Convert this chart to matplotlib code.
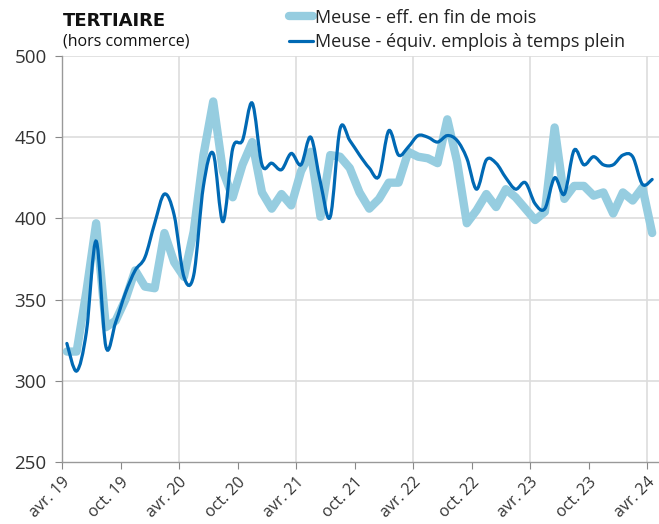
import matplotlib
matplotlib.use('Agg')
import matplotlib.pyplot as plt
from matplotlib.path import Path
from matplotlib.patches import PathPatch
from matplotlib.lines import Line2D
import numpy as np

plt.rcParams['font.family'] = ['Open Sans', 'DejaVu Sans']

# monthly values, avr. 2019 -> avr. 2024
eff_fin_mois = [318, 318, 355, 397, 333, 337, 350, 368, 358, 357,
                391, 373, 364, 392, 439, 472, 429, 413, 433, 447,
                416, 406, 415, 408, 429, 441, 401, 439, 438, 431,
                416, 406, 412, 422, 422, 441, 438, 437, 434, 461,
                435, 397, 405, 415, 407, 418, 413, 406, 399, 404,
                456, 412, 420, 420, 414, 416, 403, 416, 411, 419,
                391]
equiv_temps_plein = [323, 306, 330, 386, 321, 336, 354, 368, 376, 397,
                     415, 402, 364, 365, 420, 440, 398, 443, 448, 471,
                     433, 434, 430, 440, 433, 450, 422, 401, 455, 448,
                     439, 431, 426, 454, 439, 444, 451, 450, 447, 451,
                     448, 437, 418, 436, 434, 425, 418, 422, 409, 406,
                     425, 415, 442, 433, 438, 433, 433, 439, 438, 421,
                     424]
tick_labels = ['avr. 19', 'oct. 19', 'avr. 20', 'oct. 20', 'avr. 21', 'oct. 21',
               'avr. 22', 'oct. 22', 'avr. 23', 'oct. 23', 'avr. 24']
label_eff = 'Meuse - eff. en fin de mois'
label_etp = 'Meuse - équiv. emplois à temps plein'

LIGHT = '#96cde0'
DARK = '#0069b4'
GRID = '#dddddd'
TXT = '#333333'


def smooth_path(x, y, t=1.0):
    # catmull-rom style bezier through the data points
    pts = np.column_stack([x, y])
    verts = [pts[0]]
    codes = [Path.MOVETO]
    n = len(pts)
    for i in range(n - 1):
        p0 = pts[max(i - 1, 0)]
        p1 = pts[i]
        p2 = pts[i + 1]
        p3 = pts[min(i + 2, n - 1)]
        c1 = p1 + (p2 - p0) * t / 6
        c2 = p2 - (p3 - p1) * t / 6
        verts += [c1, c2, p2]
        codes += [Path.CURVE4] * 3
    return Path(verts, codes)


fig = plt.figure(figsize=(6.59, 5.24), dpi=100)
ax = fig.add_axes([62 / 659, 62 / 524, 597 / 659, 406 / 524])

x = np.arange(len(eff_fin_mois)) + 0.5
ax.plot(x, eff_fin_mois, color=LIGHT, lw=6, solid_joinstyle='round',
        solid_capstyle='round', zorder=3, clip_on=False)
ax.add_patch(PathPatch(smooth_path(x, equiv_temps_plein), fill=False,
                       edgecolor=DARK, lw=2.3, zorder=4, clip_on=False,
                       capstyle='round'))

ax.set_xlim(0, 61.2)
ax.set_ylim(250, 500)
ax.set_yticks(range(250, 501, 50))
ax.set_xticks(range(0, 61, 6))
ax.set_xticklabels(tick_labels, rotation=45, ha='right', va='top',
                   rotation_mode='anchor', fontsize=11.5, color=TXT)
ax.tick_params(axis='y', labelsize=13.5, colors='#888888', labelcolor=TXT,
               length=5, width=0.8, pad=6)
ax.tick_params(axis='x', colors='#888888', labelcolor=TXT, length=5,
               width=0.8, pad=4)

for v in range(300, 501, 50):
    ax.axhline(v, color=GRID, lw=1.2, zorder=1)
for m in range(12, 61, 12):
    ax.axvline(m, color=GRID, lw=1.2, zorder=1)

for s in ['top', 'right']:
    ax.spines[s].set_visible(False)
ax.spines['left'].set_color('#999999')
ax.spines['bottom'].set_color('#999999')
ax.spines['left'].set_linewidth(1)
ax.spines['bottom'].set_linewidth(1)

fig.text(63 / 659, 1 - 21 / 524, 'TERTIAIRE', fontsize=13, fontweight='bold',
         family='DejaVu Sans', color='#111111', va='center', ha='left')
fig.text(63 / 659, 1 - 42 / 524, '(hors commerce)', fontsize=11.5,
         color='#111111', va='center', ha='left')

handles = [Line2D([], [], color=LIGHT, lw=6, solid_capstyle='round'),
           Line2D([], [], color=DARK, lw=2.3, solid_capstyle='round')]
fig.legend(handles, [label_eff, label_etp], loc='center left',
           bbox_to_anchor=(280 / 659, 1 - 30 / 524), frameon=False,
           fontsize=13, handlelength=1.35, handletextpad=0.1,
           labelspacing=0.38, borderpad=0, labelcolor='#222222')

fig.savefig('out.png', dpi=100)
